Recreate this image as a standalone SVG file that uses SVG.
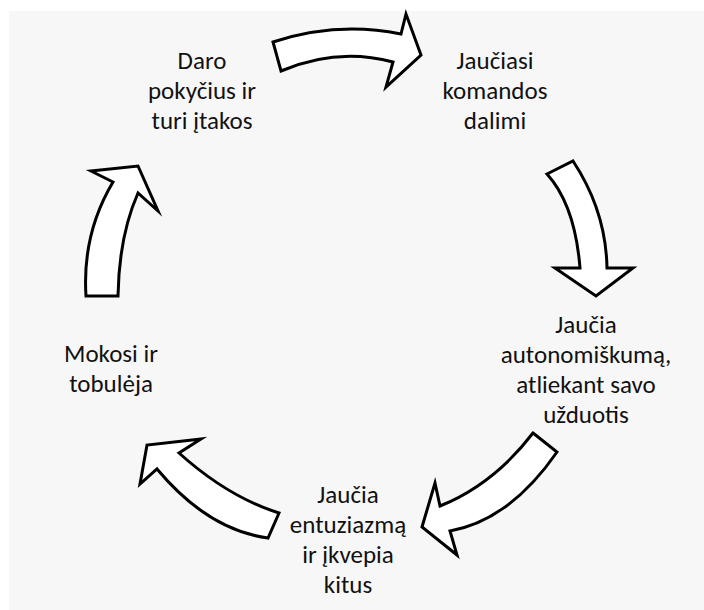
<svg xmlns="http://www.w3.org/2000/svg" width="704" height="610" viewBox="0 0 704 610">
  <style>
    .arrow { fill: #ffffff; stroke: #000000; stroke-width: 3; stroke-linejoin: miter; stroke-miterlimit: 10; }
    .label { font-family: Carlito, Lato, "Liberation Sans", sans-serif; font-size: 25px; fill: #111111; text-anchor: middle; }
  </style>
  <rect x="0" y="0" width="704" height="610" fill="#ffffff"/>
  <rect x="9" y="11" width="695" height="599" fill="#f7f7f7"/>

  <!-- curved block arrows running clockwise between the stages -->
  <g id="connectors">
    <path id="arrow-top" class="arrow" d="M 273,42 Q 337,21 401,34 L 406,14 L 421,55 L 386,87 L 393,62 Q 337,47 281,71 Z"/>
    <path id="arrow-right" class="arrow" d="M 547,174 L 573,161 Q 606,211 607,268 L 633,268 L 596,296 L 555,268 L 580,268 Q 575,205 547,174 Z"/>
    <path id="arrow-bottom-right" class="arrow" d="M 533,433 L 557,452 Q 510,520 450,531 L 457,555 L 422,527 L 435,483 L 440,506 Q 494,484 533,433 Z"/>
    <path id="arrow-bottom-left" class="arrow" d="M 279,513 L 268,538 Q 208,530 157,469 L 140,484 L 147,445 L 201,439 L 179,453 Q 228,497 279,513 Z"/>
    <path id="arrow-left" class="arrow" d="M 86,296 Q 82,234 113,182 L 91,171 L 138,166 L 158,211 L 138,193 Q 119,236 118,296 Z"/>
  </g>

  <g id="node-changes">
    <text class="label" x="202" y="68.5">Daro</text>
    <text class="label" x="202" y="98.5">pokyčius ir</text>
    <text class="label" x="202" y="128.5">turi įtakos</text>
  </g>

  <g id="node-team">
    <text class="label" x="495" y="68.5">Jaučiasi</text>
    <text class="label" x="495" y="98.5">komandos</text>
    <text class="label" x="495" y="128.5">dalimi</text>
  </g>

  <g id="node-autonomy">
    <text class="label" x="586" y="332.5">Jaučia</text>
    <text class="label" x="586" y="362.5">autonomiškumą,</text>
    <text class="label" x="586" y="392.5">atliekant savo</text>
    <text class="label" x="586" y="422.5">užduotis</text>
  </g>

  <g id="node-enthusiasm">
    <text class="label" x="348" y="503">Jaučia</text>
    <text class="label" x="348" y="533">entuziazmą</text>
    <text class="label" x="348" y="563">ir įkvepia</text>
    <text class="label" x="348" y="593">kitus</text>
  </g>

  <g id="node-learning">
    <text class="label" x="111" y="362">Mokosi ir</text>
    <text class="label" x="111" y="392">tobulėja</text>
  </g>
</svg>
